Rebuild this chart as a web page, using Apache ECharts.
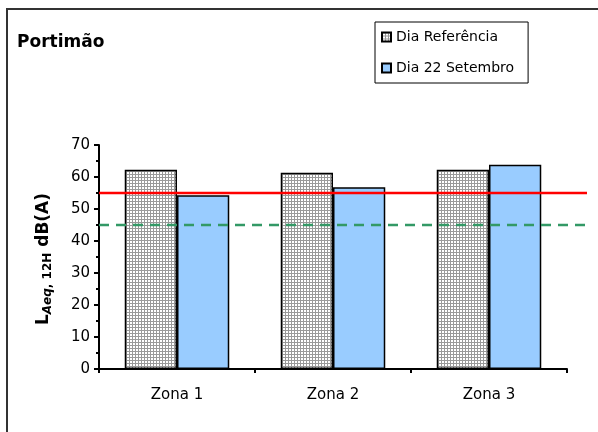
<!DOCTYPE html>
<html><head><meta charset="utf-8">
<script src="https://cdn.jsdelivr.net/npm/echarts@6/dist/echarts.min.js"></script>
<style>html,body{margin:0;padding:0;background:#fff}#c{width:598px;height:432px}</style>
</head><body><div id="c"></div>
<script>
const categories = ['Zona 1', 'Zona 2', 'Zona 3'];
const refValues = [62.3, 61.3, 62.3];
const sepValues = [54.3, 56.8, 63.8];
const limitRed = 55;
const limitGreen = 45;
const seriesNames = ['Dia Referência', 'Dia 22 Setembro'];

const pc = document.createElement('canvas');
pc.width = 3; pc.height = 3;
const g = pc.getContext('2d');
g.fillStyle = '#ffffff'; g.fillRect(0,0,3,3);
g.fillStyle = '#999999'; g.fillRect(0,0,3,1); g.fillRect(0,0,1,3);

const font = '"DejaVu Sans", Verdana, sans-serif';
const chart = echarts.init(document.getElementById('c'), null, {renderer:'canvas'});
chart.setOption({
  animation:false,
  backgroundColor:'#fff',
  textStyle:{fontFamily:font},
  graphic:[{type:'rect', shape:{x:7,y:9,width:620,height:460}, style:{fill:'none', stroke:'#333', lineWidth:2}, z:-1}],
  title:{text:'Portimão', left:12, top:29, textStyle:{fontFamily:font, fontSize:17, fontWeight:'bold', color:'#000'}},
  legend:{
    data:seriesNames, orient:'vertical', left:375, top:22, width:153,
    padding:[8,14,8,6], itemGap:17, itemWidth:9, itemHeight:9,
    borderColor:'#000', borderWidth:1, icon:'rect',
    textStyle:{fontFamily:font, fontSize:14, color:'#000', padding:[0,0,0,0]}
  },
  grid:[{left:99, right:31, top:145, bottom:63},{left:99, right:11, top:145, bottom:63}],
  xAxis:[
    {type:'category', data:categories, gridIndex:0,
     axisLine:{lineStyle:{color:'#000', width:2}},
     axisTick:{show:true, length:4, lineStyle:{color:'#000', width:2}},
     axisLabel:{color:'#000', fontSize:15, margin:19, fontFamily:font}},
    {type:'value', gridIndex:1, min:0, max:1, show:false}
  ],
  yAxis:[
    {type:'value', gridIndex:0, min:0, max:70, interval:10,
     axisLine:{show:true, lineStyle:{color:'#000', width:2}},
     axisTick:{show:true, length:5, lineStyle:{color:'#000', width:2}},
     minorTick:{show:true, splitNumber:2, length:3, lineStyle:{color:'#000', width:2}},
     splitLine:{show:false},
     axisLabel:{color:'#000', fontSize:15, margin:9, fontFamily:font},
     name:'{a|L}{s|Aeq}{t|, 12H}{a| dB(A)}', nameLocation:'middle', nameGap:45, nameRotate:90,
     nameTextStyle:{padding:[0,4,0,0], rich:{
       a:{fontSize:17, fontWeight:'bold', color:'#000', fontFamily:font},
       s:{fontSize:12, fontWeight:'bold', fontStyle:'italic', color:'#000', fontFamily:font, verticalAlign:'bottom', padding:[8,0,0,0]},
       t:{fontSize:12, fontWeight:'bold', color:'#000', fontFamily:font, verticalAlign:'bottom', padding:[8,0,0,0]}
     }}},
    {type:'value', gridIndex:1, min:0, max:70, show:false}
  ],
  series:[
    {name:seriesNames[0], type:'bar', data:refValues, xAxisIndex:0, yAxisIndex:0,
     barGap:'0%', barCategoryGap:'33%',
     itemStyle:{color:{image:pc, repeat:'repeat'}, borderColor:'#000', borderWidth:1.5}},
    {name:seriesNames[1], type:'bar', data:sepValues, xAxisIndex:0, yAxisIndex:0,
     itemStyle:{color:'#99ccff', borderColor:'#000', borderWidth:1.5}},
    {type:'line', xAxisIndex:1, yAxisIndex:1, data:[[0,limitRed],[1,limitRed]], symbol:'none',
     lineStyle:{color:'#ff0000', width:2.5}, z:5},
    {type:'line', xAxisIndex:1, yAxisIndex:1, data:[[0,limitGreen],[1,limitGreen]], symbol:'none',
     lineStyle:{color:'#339966', width:2.5, type:[10,7]}, z:5}
  ]
});
</script></body></html>
